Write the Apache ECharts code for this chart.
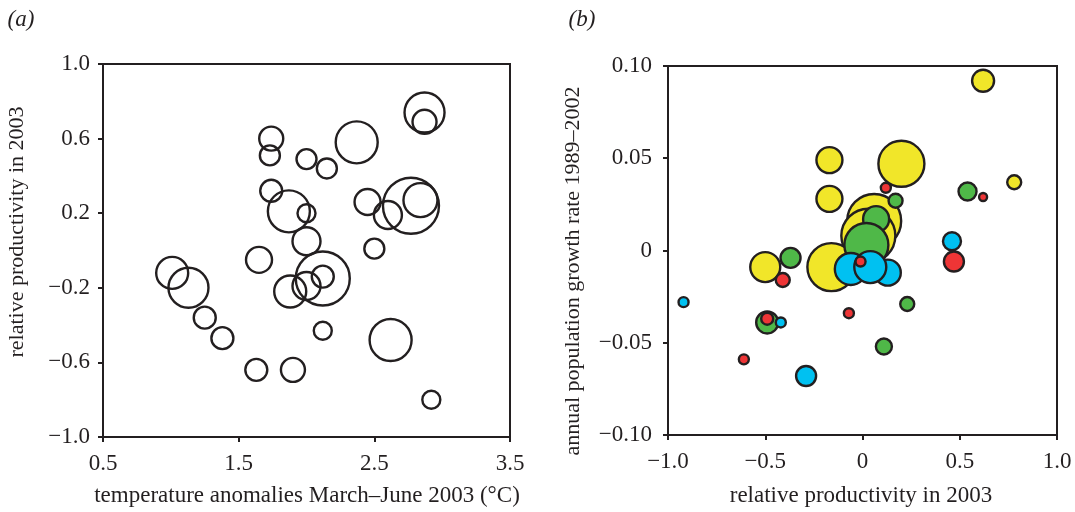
<!DOCTYPE html>
<html>
<head>
<meta charset="utf-8">
<script src="https://cdn.jsdelivr.net/npm/echarts@6/dist/echarts.min.js"></script>
<style>
html,body{margin:0;padding:0;background:#fff;}
#c{width:1075px;height:512px;}
</style>
</head>
<body>
<div id="c"></div>
<script>
// ---- Panel (a) data: temperature anomaly, relative productivity, bubble size (arbitrary units)
const tempA = [1.74,1.73,2.0,2.15,2.37,2.87,2.87,1.74,1.87,2.0,2.45,2.6,2.77,2.84,2.0,2.5,1.01,1.13,1.65,1.88,2.0,2.12,2.12,1.25,1.38,2.12,2.62,1.63,1.9,2.92];
const prodA = [0.60,0.51,0.49,0.44,0.58,0.74,0.69,0.32,0.21,0.20,0.26,0.19,0.24,0.27,0.05,0.01,-0.12,-0.20,-0.05,-0.22,-0.19,-0.15,-0.14,-0.36,-0.47,-0.43,-0.48,-0.64,-0.64,-0.80];
const sizeA = [12,10,10,10,21,20,12,11,21,9,13,14,28,17,14,10,16,20,13,16,14,27,11,11,11,9,21,11,12,9];

// ---- Panel (b) data: [relative productivity, growth rate, bubble size]
const yellowB = [[-0.17,0.049,13],[-0.17,0.028,13],[0.62,0.092,11],[0.20,0.047,23],[0.78,0.037,7],[0.06,0.016,27],[0.03,0.008,27],[-0.50,-0.009,15],[-0.16,-0.009,24]];
const greenB  = [[-0.37,-0.004,10],[-0.49,-0.039,11],[0.17,0.027,7],[0.54,0.032,9],[0.07,0.017,13],[0.02,0.003,22],[0.23,-0.029,7],[0.11,-0.052,8]];
const blueB   = [[0.46,0.005,9],[-0.92,-0.028,5],[-0.42,-0.039,5],[-0.29,-0.068,10],[-0.06,-0.010,16],[0.13,-0.012,13],[0.04,-0.009,16]];
const redB    = [[0.12,0.034,5],[0.62,0.029,4],[-0.41,-0.016,7],[-0.49,-0.037,6],[-0.61,-0.059,5],[-0.07,-0.034,5],[0.47,-0.006,10],[-0.01,-0.006,5]];

// ---- Tick labels
const aXTicks = ['0.5','1.5','2.5','3.5'];
const aYTicks = ['\u22121.0','\u22120.6','\u22120.2','0.2','0.6','1.0'];
const bXTicks = ['\u22121.0','\u22120.5','0','0.5','1.0'];
const bYTicks = ['\u22120.10','\u22120.05','0','0.05','0.10'];

// ---- Axis titles
const aXName = 'temperature anomalies March\u2013June 2003 (\u00b0C)';
const aYName = 'relative productivity in 2003';
const bXName = 'relative productivity in 2003';
const bYName = 'annual population growth rate 1989\u20132002';

const INK = '#231f20';
const FONT = '"Liberation Serif","DejaVu Serif",serif';
const FS = 23;
const FSV = 22;
const SIZE_SCALE = 2;

function lab(arr, min, step) {
  return function (v) { return arr[Math.round((v - min) / step)] || ''; };
}
function axisCommon() {
  return {
    axisLine: {show: true, onZero: false, lineStyle: {color: INK, width: 2}},
    axisTick: {show: true, inside: false, length: 5, lineStyle: {color: INK, width: 2}},
    splitLine: {show: false}
  };
}
function mkAxis(idx, min, max, step, ticks, margin) {
  return Object.assign(axisCommon(), {
    type: 'value', gridIndex: idx, min: min, max: max, interval: step,
    axisLabel: {fontFamily: FONT, fontSize: FS, color: INK, margin: margin, formatter: lab(ticks, min, step)}
  });
}
function bubbles(data, color, xi) {
  return {
    type: 'scatter', xAxisIndex: xi, yAxisIndex: xi, data: data,
    symbol: 'circle',
    symbolSize: function (v) { return v[2] * SIZE_SCALE; },
    itemStyle: {color: color, borderColor: INK, borderWidth: 2.4, opacity: 1},
    emphasis: {disabled: true}, silent: true, z: 3
  };
}
function txt(s, x, y, rot, size, italic) {
  return {
    type: 'text', x: x, y: y, rotation: rot, silent: true,
    style: {text: s, fontFamily: FONT, fontSize: size, fontStyle: italic ? 'italic' : 'normal',
            fill: INK, align: 'center', verticalAlign: 'middle'}
  };
}

const dataA = tempA.map(function (t, i) { return [t, prodA[i], sizeA[i]]; });

const chart = echarts.init(document.getElementById('c'), null, {renderer: 'canvas'});
chart.setOption({
  animation: false,
  backgroundColor: '#fff',
  grid: [
    {left: 103, top: 64, width: 407, height: 373, show: true, borderColor: INK, borderWidth: 2, backgroundColor: 'transparent'},
    {left: 668, top: 66, width: 389, height: 369, show: true, borderColor: INK, borderWidth: 2, backgroundColor: 'transparent'}
  ],
  xAxis: [
    mkAxis(0, 0.5, 3.5, 1, aXTicks, 15),
    mkAxis(1, -1, 1, 0.5, bXTicks, 15)
  ],
  yAxis: [
    mkAxis(0, -1, 1, 0.4, aYTicks, 13),
    mkAxis(1, -0.1, 0.1, 0.05, bYTicks, 16)
  ],
  graphic: [
    txt('(a)', 21, 20, 0, FS, true),
    txt('(b)', 582, 20, 0, FS, true),
    txt(aXName, 307, 496, 0, FS, false),
    txt(bXName, 861, 496, 0, FS, false),
    txt(aYName, 17, 232, Math.PI / 2, FSV, false),
    txt(bYName, 573, 271, Math.PI / 2, FSV, false)
  ],
  series: [
    bubbles(dataA, 'transparent', 0),
    bubbles(yellowB, '#f1e629', 1),
    bubbles(greenB, '#4fb848', 1),
    bubbles(blueB, '#00c1f1', 1),
    bubbles(redB, '#ee3536', 1)
  ]
});
</script>
</body>
</html>
